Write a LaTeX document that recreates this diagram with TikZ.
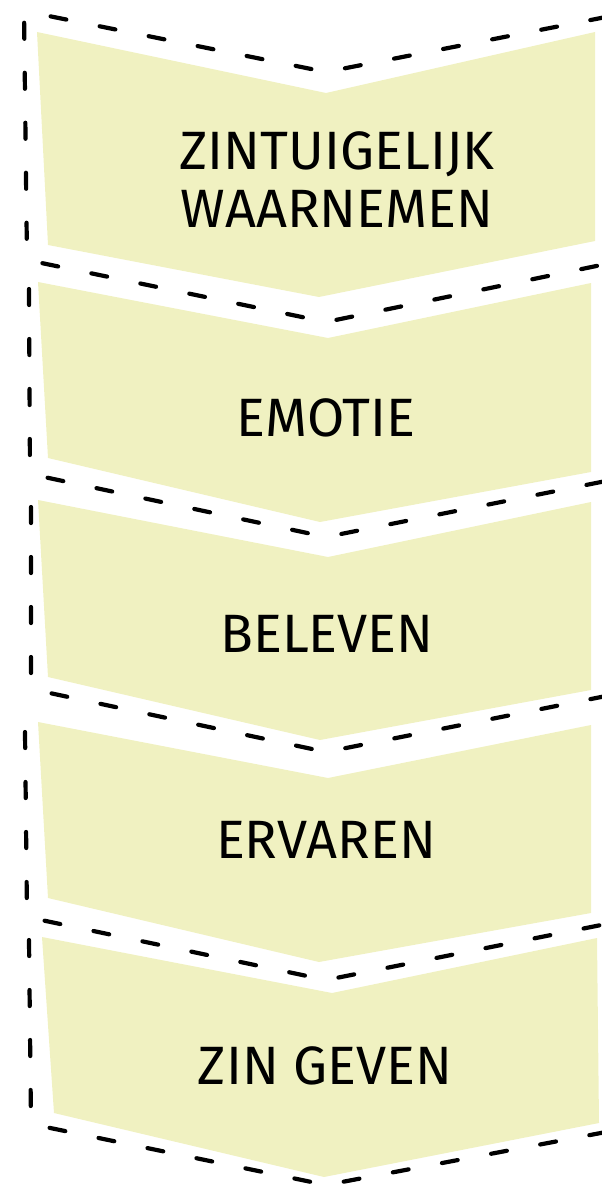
\documentclass[tikz,border=0pt]{standalone}
\usepackage{fontspec}
\setmainfont{Fira Sans}
\usepackage{tikz}
\definecolor{chevronyellow}{RGB}{240,241,193}
\tikzset{chevron/.style={fill = chevronyellow},
dashedge/.style={draw = black, line width = 4.2pt, line cap = round, dash pattern = on 16pt off 34pt, rounded corners = 9pt},
steplabel/.style={font = \fontsize{54}{58}\selectfont, inner sep = 0pt, align = center}}
\begin{document}
\begin{tikzpicture}[x=1pt,y=-1pt]
\useasboundingbox (0,0) rectangle (602,1188);
\fill[style=chevron] (37,32) -- (326,93) -- (595,32) -- (595,241) -- (319,297) -- (48,245) --cycle;
\fill[style=chevron] (38,282) -- (328,338) -- (591,283) -- (591,472) -- (320,522) -- (48,458) --cycle;
\fill[style=chevron] (38,500) -- (328,557) -- (591,502) -- (591,690) -- (320,740) -- (48,677) --cycle;
\fill[style=chevron] (38,722) -- (328,778) -- (591,725) -- (591,913) -- (319,962) -- (48,898) --cycle;
\fill[style=chevron] (42,937) -- (332,993) -- (597,938) -- (599,1123) -- (324,1177) -- (54,1113) --cycle;
\draw[style=dashedge] (606,17) -- (326,72) -- (24,11) -- (27,260) -- (326,322) -- (606,264);
\draw[style=dashedge] (29,289) -- (30,474) -- (326,537) -- (606,481);
\draw[style=dashedge] (31,507) -- (31,689) -- (326,752) -- (606,696);
\draw[style=dashedge] (25,732) -- (27,917) -- (326,980) -- (606,924);
\draw[style=dashedge] (29,940) -- (31,1124) -- (326,1185) -- (606,1132);
\node[style=steplabel] (waarnemen) at (337,180) {ZINTUIGELIJK\\WAARNEMEN};
\node[style=steplabel] (emotie) at (326,417.5) {EMOTIE};
\node[style=steplabel] (beleven) at (327,633.5) {BELEVEN};
\node[style=steplabel] (ervaren) at (326,839.5) {ERVAREN};
\node[style=steplabel] (zingeven) at (325,1065.5) {ZIN GEVEN};
\end{tikzpicture}
\end{document}
